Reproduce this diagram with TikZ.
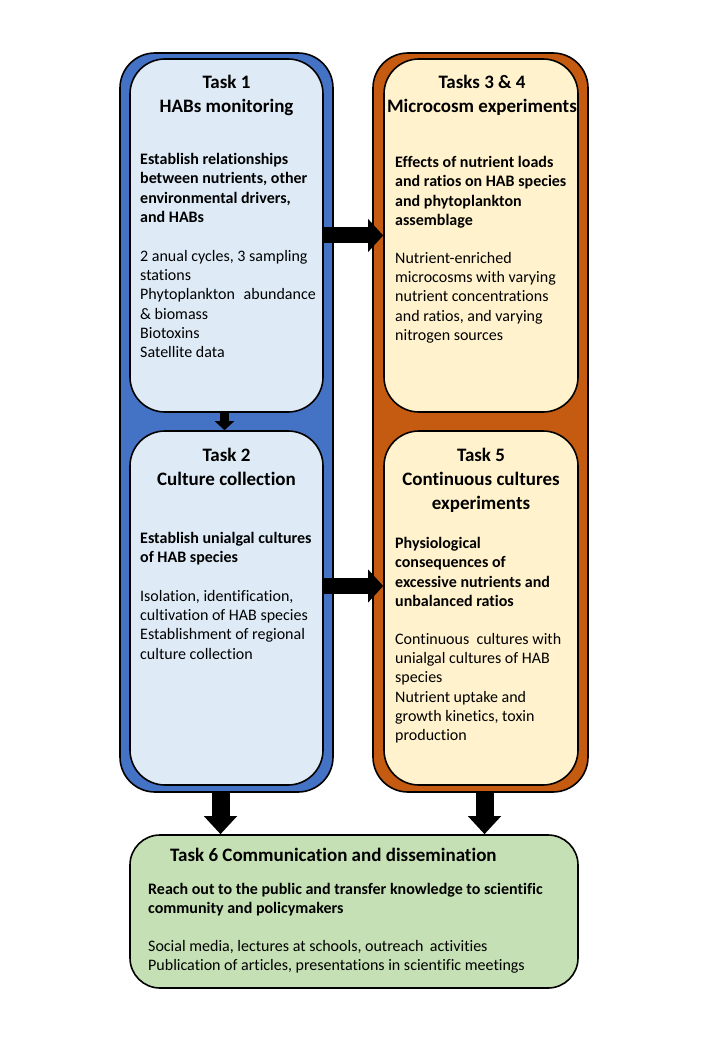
\documentclass[tikz,border=0pt]{standalone}
\usepackage{fontspec}
\setmainfont[Ligatures=CommonOff]{Carlito}
\usetikzlibrary{arrows.meta,calc}
\definecolor{bluedark}{HTML}{4472C4}
\definecolor{bluelight}{HTML}{DEEBF7}
\definecolor{orangedark}{HTML}{C55A11}
\definecolor{orangelight}{HTML}{FFF2CC}
\definecolor{greenlight}{HTML}{C5E0B4}
\begin{document}
\begin{tikzpicture}[x=1pt,y=-1pt,
  frame/.style={draw=black, line width=1.6pt, rounded corners=35pt, inner sep=0pt, shape=rectangle},
  tasktitle/.style={font=\fontsize{19}{24}\selectfont\bfseries, align=center, inner sep=0pt, anchor=north},
  bodybold/.style={font=\fontsize{16}{19.3}\selectfont\bfseries, align=left, inner sep=0pt, anchor=north west},
  bodytext/.style={font=\fontsize{16}{19.3}\selectfont, align=left, inner sep=0pt, anchor=north west},
  bigarrow/.style={line width=16pt, -{Triangle[length=15pt,width=32pt]}},
  smallarrow/.style={line width=9pt, -{Triangle[length=9pt,width=19pt]}},
  downarrow/.style={line width=18pt, -{Triangle[length=18pt,width=32pt]}}
]
\useasboundingbox (0,0) rectangle (720,1040);

% outer containers
\node[frame, fill=bluedark, minimum width=213pt, minimum height=739pt] (blue) at (226.5,422.5) {};
\node[frame, fill=orangedark, minimum width=215pt, minimum height=739pt] (orange) at (480.5,422.5) {};

% inner task boxes
\node[frame, fill=bluelight, minimum width=193pt, minimum height=353pt] (t1) at (226.5,235.5) {};
\node[frame, fill=bluelight, minimum width=193pt, minimum height=354pt] (t2) at (226.5,608) {};
\node[frame, fill=orangelight, minimum width=194pt, minimum height=353pt] (t34) at (481,235.5) {};
\node[frame, fill=orangelight, minimum width=194pt, minimum height=354pt] (t5) at (481,608) {};

% Task 1 text
\node[tasktitle] (t1title) at (226.5,75) {Task 1\\HABs monitoring};
\node[bodybold] (t1bold) at (140,153) {Establish relationships\\between nutrients, other\\environmental drivers,\\and HABs};
\node[bodytext] (t1body) at (140,250) {2 anual cycles, 3 sampling\\stations\\Phytoplankton\hspace{0.55em}abundance\\\& biomass\\Biotoxins\\Satellite data};

% Task 3 & 4 text
\node[tasktitle] (t34title) at (482,75) {Tasks 3 \& 4\\Microcosm experiments};
\node[bodybold] (t34bold) at (395,156) {Effects of nutrient loads\\and ratios on HAB species\\and phytoplankton\\assemblage};
\node[bodytext] (t34body) at (395,252) {Nutrient-enriched\\microcosms with varying\\nutrient concentrations\\and ratios, and varying\\nitrogen sources};

% Task 2 text
\node[tasktitle] (t2title) at (226.5,448) {Task 2\\Culture collection};
\node[bodybold] (t2bold) at (140,532) {Establish unialgal cultures\\of HAB species};
\node[bodytext] (t2body) at (140,590) {Isolation, identification,\\cultivation of HAB species\\Establishment of regional\\culture collection};

% Task 5 text
\node[tasktitle] (t5title) at (481,448) {Task 5\\Continuous cultures\\experiments};
\node[bodybold] (t5bold) at (395,537) {Physiological\\consequences of\\excessive nutrients and\\unbalanced ratios};
\node[bodytext] (t5body) at (395,633) {Continuous\hspace{0.45em}cultures with\\unialgal cultures of HAB\\species\\Nutrient uptake and\\growth kinetics, toxin\\production};

% connectors
\draw[bigarrow] (t1.east) -- (t34.west);
\draw[bigarrow] ([yshift=22pt]t2.east) -- ([yshift=22pt]t5.west);
\draw[smallarrow] ([xshift=-2pt]t1.south) -- ([xshift=-2pt]t2.north);

% Task 6
\node[frame, rounded corners=30pt, fill=greenlight, minimum width=448pt, minimum height=153pt] (green) at (354,911.5) {};
\draw[downarrow] ([xshift=-6pt]blue.south) -- ([xshift=-6pt]blue.south |- green.north);
\draw[downarrow] ([xshift=4pt]orange.south) -- ([xshift=4pt]orange.south |- green.north);
\node[tasktitle, anchor=north west] (t6title) at (170,848) {Task 6 Communication and dissemination};
\node[bodybold] (t6bold) at (148,883) {Reach out to the public and transfer knowledge to scientific\\community and policymakers};
\node[bodytext] (t6body) at (148,940) {Social media, lectures at schools, outreach\hspace{0.4em}activities\\Publication of articles, presentations in scientific meetings};
\end{tikzpicture}
\end{document}
